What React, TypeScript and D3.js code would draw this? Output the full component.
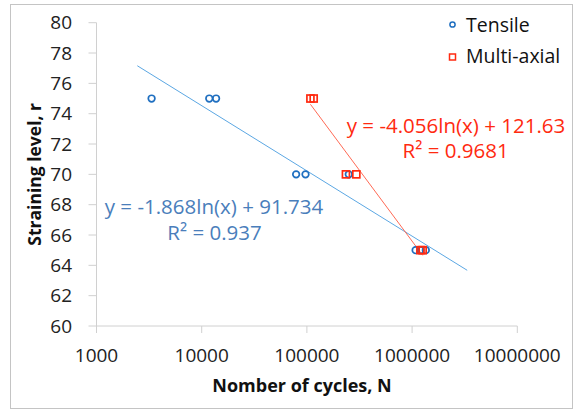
import React from "react";
import * as d3 from "d3";

// Fatigue data: number of cycles to failure vs. straining level
const tensileN = [3340, 11800, 13700, 79000, 97000, 250000, 1080000, 1200000, 1350000];
const tensileR = [75, 75, 75, 70, 70, 70, 65, 65, 65];
const multiN = [108000, 116000, 235000, 295000, 1200000, 1260000];
const multiR = [75, 75, 70, 70, 65, 65];

// Logarithmic trend lines y = a*ln(x) + b
const tensileFit = { a: -1.868, b: 91.734, r2: 0.937, from: 2443, to: 3340000 };
const multiFit = { a: -4.056, b: 121.63, r2: 0.9681 };

const xTicks = [1000, 10000, 100000, 1000000, 10000000];
const yTicks = [60, 62, 64, 66, 68, 70, 72, 74, 76, 78, 80];

const W = 578;
const H = 412;
const FONT = "'Open Sans', sans-serif";
const BLUE = "#1f6fc0";
const BLUE_LINE = "#5ba7e3";
const BLUE_TEXT = "#4a7ebb";
const RED = "#ff2a10";
const RED_LINE = "#ff6a55";
const AXIS = "#d0d0d0";

export default function App() {
  const x = d3.scaleLog().domain([1000, 10000000]).range([96.5, 517.3]);
  const y = d3.scaleLinear().domain([60, 80]).range([326, 22.7]);

  const trend = (a: number, b: number, from: number, to: number) => {
    const xs = [from, to];
    return d3
      .line<number>()
      .x((n) => x(n))
      .y((n) => y(a * Math.log(n) + b))(xs) as string;
  };

  const multiFrom = d3.min(multiN) as number;
  const multiTo = d3.max(multiN) as number;

  const fmt = (v: number) => (v >= 0 ? "" : "-") + Math.abs(v).toString();

  return (
    <svg
      width={W}
      height={H}
      style={{ position: "absolute", left: 0, top: 0, background: "#fff" }}
      fontFamily={FONT}
    >
      <rect x={10.5} y={4.5} width={562} height={404} fill="#fff" stroke="#c4c4c4" strokeWidth={1} />

      {/* y axis */}
      <line x1={x(1000)} x2={x(1000)} y1={y(80)} y2={y(60)} stroke={AXIS} />
      {yTicks.map((t) => (
        <g key={"y" + t}>
          <line x1={x(1000) - 8} x2={x(1000)} y1={y(t)} y2={y(t)} stroke={AXIS} />
          <text x={72} y={y(t)} dy="0.35em" textAnchor="end" fontSize={19} fill="#222">
            {t}
          </text>
        </g>
      ))}

      {/* x axis */}
      <line x1={x(1000)} x2={x(10000000)} y1={y(60)} y2={y(60)} stroke={AXIS} />
      {xTicks.map((t) => (
        <g key={"x" + t}>
          <line x1={x(t)} x2={x(t)} y1={y(60)} y2={y(60) + 7} stroke={AXIS} />
          <text x={x(t)} y={361.5} textAnchor="middle" fontSize={19} fill="#222">
            {d3.format("d")(t)}
          </text>
        </g>
      ))}

      <text x={302} y={392} textAnchor="middle" fontSize={18} fontWeight="bold" fill="#111">
        Nomber of cycles, N
      </text>
      <text
        transform={`translate(41,${(y(80) + y(60)) / 2}) rotate(-90)`}
        textAnchor="middle"
        fontSize={17.5}
        fontWeight="bold"
        fill="#111"
      >
        Straining level, r
      </text>

      {/* trend lines */}
      <path d={trend(tensileFit.a, tensileFit.b, tensileFit.from, tensileFit.to)} stroke={BLUE_LINE} strokeWidth={1} fill="none" />
      <path d={trend(multiFit.a, multiFit.b, multiFrom, multiTo)} stroke={RED_LINE} strokeWidth={1} fill="none" />

      {/* markers */}
      {tensileN.map((n, i) => (
        <circle key={"t" + i} cx={x(n)} cy={y(tensileR[i])} r={3.3} fill="none" stroke={BLUE} strokeWidth={1.7} />
      ))}
      {multiN.map((n, i) => (
        <rect
          key={"m" + i}
          x={x(n) - 3.5}
          y={y(multiR[i]) - 3.5}
          width={7}
          height={7}
          fill="none"
          stroke={RED}
          strokeWidth={1.7}
        />
      ))}

      {/* equations */}
      <text x={214} y={213.5} textAnchor="middle" fontSize={20.5} fill={BLUE_TEXT}>
        {`y = ${fmt(tensileFit.a)}ln(x) + ${tensileFit.b}`}
      </text>
      <text x={214.5} y={239.5} textAnchor="middle" fontSize={20.5} fill={BLUE_TEXT}>
        {`R² = ${tensileFit.r2}`}
      </text>
      <text x={456} y={132.7} textAnchor="middle" fontSize={20.5} fill={RED}>
        {`y = ${fmt(multiFit.a)}ln(x) + ${multiFit.b}`}
      </text>
      <text x={455.7} y={158.3} textAnchor="middle" fontSize={20.5} fill={RED}>
        {`R² = ${multiFit.r2}`}
      </text>

      {/* legend */}
      <circle cx={452.5} cy={24.5} r={2.6} fill="none" stroke={BLUE} strokeWidth={1.5} />
      <text x={466} y={31.7} fontSize={19.5} fill="#111">
        Tensile
      </text>
      <rect x={449.5} y={54} width={6} height={6} fill="none" stroke={RED} strokeWidth={1.5} />
      <text x={466} y={63.3} fontSize={19.5} fill="#111">
        Multi-axial
      </text>
    </svg>
  );
}
